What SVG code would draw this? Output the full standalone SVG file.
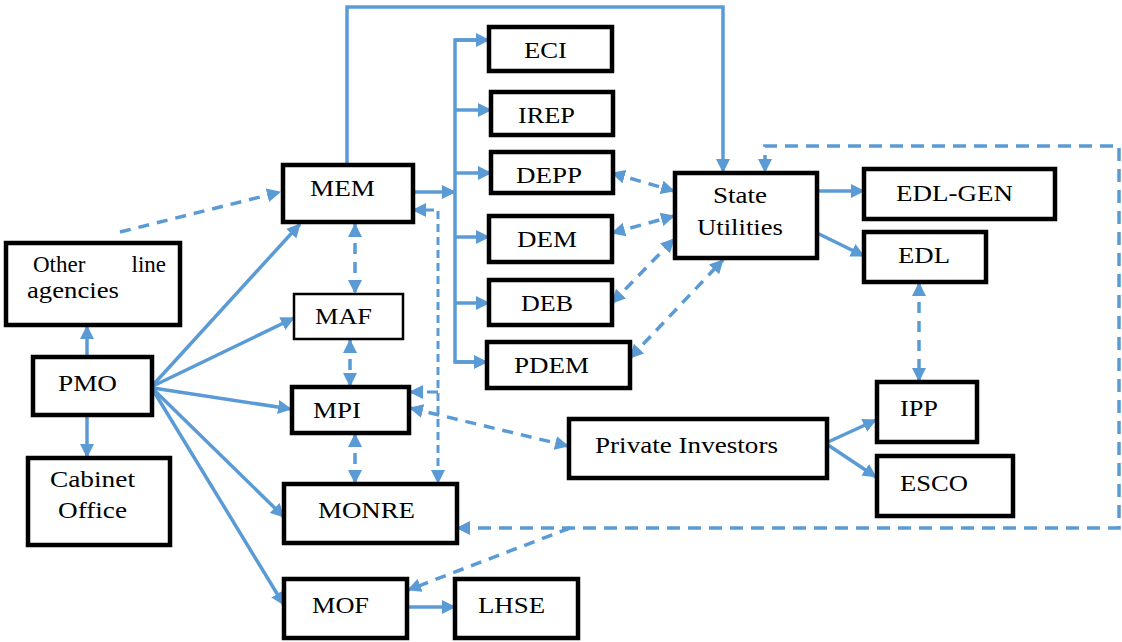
<svg xmlns="http://www.w3.org/2000/svg" width="1122" height="642" viewBox="0 0 1122 642">
<defs>
<marker id="ah" markerUnits="userSpaceOnUse" markerWidth="14" markerHeight="14" refX="13" refY="7" orient="auto-start-reverse" viewBox="0 0 14 14">
<path d="M0,0 L14,7 L0,14 z" fill="#5b9bd5"/>
</marker>
<style>
.box{fill:#fff;stroke:#000;stroke-width:4.5}
.thin{stroke-width:2.5}
.c{fill:none;stroke:#5b9bd5;stroke-width:3.5}
.d{stroke-dasharray:11 8}
.ea{marker-end:url(#ah)}
.ba{marker-start:url(#ah);marker-end:url(#ah)}
</style>
</defs>
<rect width="1122" height="642" fill="#fff"/>

<g id="connectors">
<polyline class="c ea" points="347,165 347,7 723,7 723,172"/>
<line class="c ea" x1="413" y1="192" x2="455" y2="192"/>
<polyline class="c" points="489,40 455,40 455,362 487,362"/>
<line class="c ea" x1="455" y1="40" x2="489" y2="40"/>
<line class="c ea" x1="455" y1="110" x2="491" y2="110"/>
<line class="c ea" x1="455" y1="173" x2="491" y2="173"/>
<line class="c ea" x1="455" y1="237" x2="489" y2="237"/>
<line class="c ea" x1="455" y1="303" x2="489" y2="303"/>
<line class="c ea" x1="455" y1="362" x2="487" y2="362"/>
<line class="c ea" x1="817" y1="191" x2="864" y2="191"/>
<line class="c ea" x1="817" y1="233" x2="864" y2="256"/>
<line class="c ea" x1="828" y1="442" x2="876" y2="420"/>
<line class="c ea" x1="828" y1="445" x2="876" y2="477"/>
<line class="c ea" x1="87" y1="357" x2="87" y2="326"/>
<line class="c ea" x1="87" y1="415" x2="87" y2="457"/>
<line class="c ea" x1="153" y1="385" x2="300" y2="224"/>
<line class="c ea" x1="153" y1="386" x2="294" y2="318"/>
<line class="c ea" x1="153" y1="388" x2="291" y2="409"/>
<line class="c ea" x1="153" y1="389" x2="284" y2="517"/>
<line class="c ea" x1="153" y1="390" x2="284" y2="605"/>
<line class="c ea" x1="407" y1="607" x2="455" y2="607"/>

<line class="c d ea" x1="120" y1="232" x2="280" y2="192"/>
<line class="c d ba" x1="355" y1="224" x2="355" y2="293"/>
<line class="c d ba" x1="350" y1="340" x2="350" y2="386"/>
<line class="c d ba" x1="355" y1="434" x2="355" y2="483"/>
<line class="c d ba" x1="410" y1="408" x2="568" y2="446"/>
<polyline class="c d ba" style="stroke-width:3;stroke-dasharray:8 5" points="413,210 438,210 438,483"/>
<line class="c d ea" style="stroke-width:3" x1="438" y1="392" x2="410" y2="392"/>
<line class="c d ba" x1="612" y1="173" x2="674" y2="191"/>
<line class="c d ba" x1="612" y1="233" x2="674" y2="216"/>
<line class="c d ba" x1="612" y1="303" x2="674" y2="239"/>
<line class="c d ba" x1="630" y1="358" x2="723" y2="260"/>
<line class="c d ba" x1="919" y1="283" x2="919" y2="381"/>
<polyline class="c d ba" style="stroke-dasharray:13 8" points="457,528 1119,528 1119,146 765,146 765,172"/>
<line class="c d ea" x1="570" y1="528" x2="408" y2="590"/>
</g>

<g id="nodes" font-family="Liberation Serif, Times New Roman, serif" font-size="23" fill="#000">
<g id="n-mem"><rect class="box" x="283" y="165" width="130" height="57"/><text x="310" y="196" textLength="65" lengthAdjust="spacingAndGlyphs">MEM</text></g>
<g id="n-other"><rect class="box" x="6" y="243" width="174" height="82"/><text x="33" y="272">Other</text><text x="166" y="272" text-anchor="end">line</text><text x="27" y="298" textLength="92" lengthAdjust="spacingAndGlyphs">agencies</text></g>
<g id="n-maf"><rect class="box thin" x="294" y="294" width="109" height="45"/><text x="315" y="324" textLength="57" lengthAdjust="spacingAndGlyphs">MAF</text></g>
<g id="n-pmo"><rect class="box" x="33" y="357" width="119" height="58"/><text x="58" y="391" textLength="59" lengthAdjust="spacingAndGlyphs">PMO</text></g>
<g id="n-cabinet"><rect class="box" x="28" y="458" width="142" height="87"/><text x="50" y="487" textLength="85" lengthAdjust="spacingAndGlyphs">Cabinet</text><text x="58" y="518" textLength="69" lengthAdjust="spacingAndGlyphs">Office</text></g>
<g id="n-mpi"><rect class="box" x="292" y="387" width="117" height="46"/><text x="313" y="418" textLength="48" lengthAdjust="spacingAndGlyphs">MPI</text></g>
<g id="n-monre"><rect class="box" x="284" y="484" width="173" height="59"/><text x="318" y="518" textLength="97" lengthAdjust="spacingAndGlyphs">MONRE</text></g>
<g id="n-mof"><rect class="box" x="284" y="579" width="123" height="59"/><text x="312" y="613" textLength="57" lengthAdjust="spacingAndGlyphs">MOF</text></g>
<g id="n-lhse"><rect class="box" x="455" y="579" width="123" height="59"/><text x="478" y="613" textLength="67" lengthAdjust="spacingAndGlyphs">LHSE</text></g>
<g id="n-pi"><rect class="box" x="569" y="419" width="258" height="59"/><text x="595" y="453" textLength="183" lengthAdjust="spacingAndGlyphs">Private Investors</text></g>
<g id="n-eci"><rect class="box" x="489" y="27" width="123" height="44"/><text x="524" y="58" textLength="43" lengthAdjust="spacingAndGlyphs">ECI</text></g>
<g id="n-irep"><rect class="box" x="491" y="92" width="122" height="43"/><text x="518" y="123" textLength="57" lengthAdjust="spacingAndGlyphs">IREP</text></g>
<g id="n-depp"><rect class="box" x="491" y="152" width="122" height="41"/><text x="516" y="183" textLength="66" lengthAdjust="spacingAndGlyphs">DEPP</text></g>
<g id="n-dem"><rect class="box" x="489" y="216" width="123" height="46"/><text x="517" y="247" textLength="60" lengthAdjust="spacingAndGlyphs">DEM</text></g>
<g id="n-deb"><rect class="box" x="489" y="280" width="123" height="45"/><text x="521" y="311" textLength="52" lengthAdjust="spacingAndGlyphs">DEB</text></g>
<g id="n-pdem"><rect class="box" x="487" y="342" width="143" height="46"/><text x="514" y="373" textLength="75" lengthAdjust="spacingAndGlyphs">PDEM</text></g>
<g id="n-su"><rect class="box" x="675" y="173" width="142" height="85"/><text x="713" y="203" textLength="54" lengthAdjust="spacingAndGlyphs">State</text><text x="697" y="235" textLength="86" lengthAdjust="spacingAndGlyphs">Utilities</text></g>
<g id="n-edlgen"><rect class="box" x="864" y="169" width="191" height="50"/><text x="896" y="201" textLength="117" lengthAdjust="spacingAndGlyphs">EDL-GEN</text></g>
<g id="n-edl"><rect class="box" x="864" y="232" width="122" height="50"/><text x="898" y="263" textLength="52" lengthAdjust="spacingAndGlyphs">EDL</text></g>
<g id="n-ipp"><rect class="box" x="877" y="382" width="100" height="60"/><text x="900" y="416" textLength="38" lengthAdjust="spacingAndGlyphs">IPP</text></g>
<g id="n-esco"><rect class="box" x="877" y="456" width="136" height="60"/><text x="900" y="491" textLength="68" lengthAdjust="spacingAndGlyphs">ESCO</text></g>
</g>
</svg>
